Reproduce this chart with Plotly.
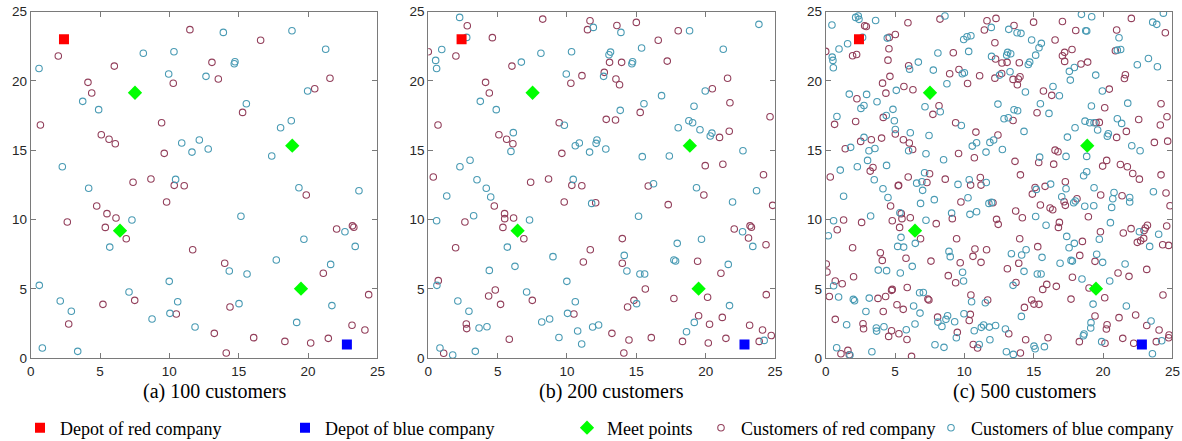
import plotly.graph_objects as go

# ---------------- data ----------------
red_depot = (2.4, 23.0)
blue_depot = (22.8, 1.0)
meet_points = [(7.52, 19.15), (18.86, 15.33), (6.44, 9.2), (19.49, 5.02)]

red_a = [(1.99,21.8),(11.48,23.7),(6.03,21.07),(4.13,19.9),(4.4,19.13),(10.28,19.83),(0.7,16.82),(9.44,16.99),
         (5.09,16.12),(5.65,15.79),(6.1,15.47),(9.63,14.78),(7.38,12.69),(8.67,12.93),(10.35,12.47),(11.07,12.44),
         (16.58,22.93),(13.07,21.34),(13.53,20.14),(21.58,20.19),(20.48,19.44),(15.28,17.73),
         (4.76,10.98),(5.5,10.43),(6.15,10.12),(5.38,9.44),(6.89,8.62),(2.64,9.83),(9.8,11.27),(11.68,7.83),
         (2.74,2.47),(5.21,3.89),(7.5,4.18),(10.5,3.19),
         (19.87,11.77),(22.06,9.32),(23.2,9.55),(23.3,9.45),(13.99,6.85),(21.1,6.13),(24.37,4.59),(14.37,3.7),
         (23.17,2.38),(24.1,2.04),(13.24,1.8),(16.08,1.49),(18.33,1.22),(20.19,1.1),(21.46,1.44),(14.1,0.38)]
blue_a = [(0.6,20.9),(8.12,22.0),(10.33,22.1),(3.75,18.53),(4.9,17.93),(9.95,20.5),(10.89,15.52),(11.63,14.87),
          (12.16,15.74),(2.28,13.81),(10.45,12.9),(4.18,12.26),
          (13.89,23.5),(18.84,23.62),(21.27,22.28),(14.73,21.38),(14.68,21.24),(12.64,20.33),(19.97,19.27),
          (15.55,18.36),(18.79,17.13),(18.02,16.63),(12.8,15.09),(17.38,14.59),(19.34,12.3),(23.67,12.08),
          (7.3,9.97),(5.7,8.02),(0.62,5.26),(2.13,4.13),(2.93,3.39),(7.09,4.78),(9.99,5.55),(10.6,4.08),
          (10.04,3.24),(8.75,2.83),(11.85,2.26),(0.84,0.74),(3.39,0.5),
          (15.16,10.24),(22.66,9.13),(19.7,8.58),(23.4,8.07),(17.71,7.09),(14.32,6.29),(15.6,6.08),(21.63,6.77),
          (15.02,3.94),(21.72,3.8),(19.18,2.59)]

red_b_extra = [(2.81,23.98),(4.62,23.12),(8.25,24.46),(11.66,24.34),(0.0,22.1),(11.08,20.38),(0.36,13.07),
               (13.6,24.0),(15.0,24.22),(18.02,23.62),(13.94,21.34),(17.23,21.43),(12.69,20.62),(13.79,19.73),
               (21.75,18.43),(12.83,17.23),(13.5,17.18),(21.0,15.93),(21.7,16.37),(24.64,17.42),(19.97,13.89),
               (21.24,13.99),(24.17,13.24),(15.86,12.42),
               (12.07,11.22),(5.51,10.07),(1.97,7.97),(11.18,6.94),(0.72,5.6),(2.77,2.14),(4.83,4.92),(4.35,4.49),
               (5.84,1.37),(1.11,0.36),
               (17.3,11.08),(24.83,11.03),(23.09,8.67),(24.35,8.19),(13.99,8.63),(19.42,7.0),(15.65,5.0),(20.14,4.4),
               (14.83,4.18),(17.71,4.31),(19.49,3.07),(21.2,2.95),(20.28,2.45),(24.73,1.64),(23.86,1.22),(14.47,1.32)]
blue_b_extra = [(2.26,24.58),(2.77,23.14),(11.9,23.86),(0.97,22.27),(0.53,21.48),(6.71,21.36),(9.81,16.8),(6.13,16.27),
                (5.96,14.92),(10.6,15.33),(3.01,14.28),(3.51,12.88),
                (23.84,24.08),(15.38,22.37),(13.14,22.08),(13.03,21.89),(16.82,18.94),(13.84,17.88),(19.16,18.17),
                (19.06,16.99),(19.59,16.48),(20.45,16.24),(20.33,16.03),(22.69,14.97),(12.1,15.5),(15.43,14.54),
                (16.24,12.59),
                (1.33,11.7),(4.5,11.63),(11.78,11.17),(3.27,10.28),(0.6,9.92),(8.99,7.33),(6.25,6.63),(4.4,6.34),
                (3.66,2.18),(4.23,2.28),(8.18,2.62),(10.77,1.97),(9.42,1.5),(11.06,1.03),(1.76,0.24),
                (21.94,11.27),(17.95,8.29),(14.13,7.42),(17.83,7.02),(15.26,6.08),(24.22,1.29),(18.62,1.91),(12.28,2.4)]

red_c = [(2.81,23.98),(2.93,23.93),(5.93,24.2),(8.24,24.46),(11.63,24.34),(12.28,24.51),(11.44,23.67),(0.0,22.13),
         (1.94,21.82),(2.23,21.91),(4.58,23.14),(5.02,23.35),(4.56,22.32),(4.49,21.5),(5.98,21.1),(9.2,22.03),
         (12.2,22.75),(12.25,21.58),(8.94,20.52),(9.61,20.83),(11.1,20.37),(12.2,20.2),(4.63,20.33),(4.1,19.84),
         (10.23,19.82),(5.64,19.6),(6.29,19.37),(2.25,18.72),(4.34,19.12),(8.17,18.21),(7.73,17.59),(4.15,17.37),
         (0.64,16.87),(2.16,17.08),(5.02,16.17),(9.37,16.99),(10.83,16.31),(2.52,15.64),(3.29,15.76),(4.03,15.88),
         (5.6,15.76),(6.03,15.52),(6.27,15.06),(1.41,15.11),(9.58,14.77),(12.42,16.1),(10.72,14.46),(3.41,13.76),
         (3.21,13.5),(0.33,13.07),(5.26,12.47),(5.95,13.07),(7.49,13.31),(7.3,12.68),(8.62,12.92),(11.15,13.04),
         (11.2,12.49),(10.45,12.49),
         (13.58,24.0),(14.99,24.24),(17.07,24.29),(18.03,23.64),(22.04,24.51),(20.98,23.67),(24.49,23.47),
         (16.54,22.95),(17.23,22.06),(17.07,21.82),(17.76,22.27),(17.23,21.41),(20.89,22.18),(12.71,21.29),
         (13.08,21.34),(13.96,21.31),(12.69,20.54),(13.51,20.11),(14.01,20.3),(13.89,20.14),(13.82,19.73),
         (18.41,21.22),(18.89,21.36),(21.61,20.45),(21.54,20.18),(15.7,19.27),(16.3,18.96),(20.45,19.41),
         (15.24,17.71),(13.51,17.15),(20.12,18.07),(24.18,18.35),(24.61,17.42),(22.57,17.22),(24.13,16.82),
         (19.49,16.98),(19.73,17.01),(21.68,16.36),(20.98,15.93),(23.7,15.57),(24.66,15.66),(16.54,15.01),
         (16.75,14.89),(15.36,14.12),(16.44,14.0),(13.65,14.2),(20.26,14.27),(19.97,13.86),(21.25,13.98),
         (21.75,13.81),(22.14,13.33),(22.62,12.92),(24.18,13.23),(14.04,13.23),(17.28,12.73),(15.1,12.32),
         (5.23,12.45),(4.68,10.98),(9.75,11.27),(12.06,11.22),(5.45,10.43),(5.5,10.07),(6.1,10.14),(9.13,10.07),
         (12.32,10.02),(12.44,9.66),(1.29,9.97),(2.59,9.8),(0.83,9.27),(4.8,9.92),(5.33,9.44),(7.97,9.71),
         (6.84,8.62),(1.94,7.97),(9.44,8.62),(10.76,7.88),(11.6,7.83),(10.62,7.35),(11.2,6.92),(9.7,6.89),
         (7.59,7.01),(5.79,7.21),(3.94,7.61),(4.08,7.06),(0.04,6.8),(0.09,6.22),(2.01,5.88),(8.84,5.96),
         (9.37,5.45),(0.69,5.57),(1.19,5.38),(4.8,4.97),(4.75,4.9),(5.88,5.11),(7.37,4.27),(7.44,4.2),
         (0.26,4.46),(3.77,4.32),(4.32,4.46),(5.14,3.86),(5.59,3.53),(4.15,3.38),(10.47,4.56),(11.68,4.2),
         (8.07,2.97),(10.43,3.17),(10.35,2.73),(0.69,2.81),(2.69,2.49),(2.73,2.13),(4.75,1.99),(4.54,1.58),
         (5.28,1.77),(5.86,1.36),(9.49,1.87),(1.1,0.33),(1.6,0.57),(1.7,0.26),(6.19,0.14),(10.64,1.0),(10.95,0.74),
         (14.9,11.84),(15.82,12.4),(17.19,11.29),(17.28,11.03),(18.12,11.51),(19.83,11.77),(21.37,11.72),
         (24.54,11.92),(24.83,11.0),(15.48,11.05),(16.18,10.84),(16.37,10.71),(13.7,10.62),(14.18,10.14),
         (18.94,10.21),(16.85,9.8),(16.78,9.44),(23.2,9.59),(23.05,9.4),(22.96,9.22),(22.02,9.35),(21.46,9.03),
         (24.59,9.54),(19.81,9.13),(18.51,8.43),(13.99,8.62),(15.29,8.05),(22.47,8.36),(22.71,8.48),(22.93,8.65),
         (24.3,8.19),(24.73,8.14),(18.32,7.42),(19.42,6.99),(13.92,6.85),(13.1,6.46),(21.08,6.15),(23.15,6.41),
         (21.87,5.91),(17.79,5.84),(13.72,5.47),(15.94,5.33),(16.63,5.19),(15.65,4.97),(18.99,5.07),(24.32,4.56),
         (17.69,4.27),(20.12,4.37),(14.85,4.2),(15.02,3.91),(15.38,3.89),(14.33,3.67),(19.42,3.05),(21.15,2.93),
         (22.35,3.12),(20.29,2.42),(20.24,2.11),(23.15,2.37),(24.04,2.04),(24.76,1.68),(24.73,1.48),(23.84,1.2),
         (13.2,1.77),(14.42,1.34),(16.03,1.48),(18.29,1.2),(20.14,1.08),(21.42,1.44),(22.21,1.08),(14.04,0.38)]
blue_c = [(0.45,24.03),(2.16,24.58),(2.35,24.68),(2.4,24.44),(3.6,24.36),(8.6,24.68),(11.94,23.86),(2.66,23.14),
          (1.58,22.68),(0.96,22.3),(0.47,21.72),(0.52,21.48),(0.55,20.95),(4.44,23.09),(6.05,20.85),(6.68,21.36),
          (8.09,22.01),(10.31,22.13),(9.95,22.99),(10.19,23.19),(10.47,23.26),(11.96,21.77),(7.76,20.78),
          (9.85,20.52),(10.0,20.59),(12.54,20.42),(8.74,19.8),(5.09,19.32),(1.7,19.05),(2.95,19.03),(3.7,18.5),
          (2.76,18.23),(2.54,18.02),(7.16,18.14),(8.26,17.78),(4.85,17.95),(4.37,17.51),(0.81,17.44),(4.95,17.13),
          (5.02,16.5),(9.78,16.79),(6.1,16.26),(7.45,16.07),(2.76,15.93),(5.98,14.97),(3.55,15.13),(3.12,14.97),
          (1.8,15.21),(7.23,14.75),(8.5,14.32),(10.57,15.3),(10.88,15.54),(11.56,14.87),(11.84,15.57),(12.11,15.74),
          (3.02,14.27),(2.28,13.81),(4.39,13.91),(1.05,13.57),(3.5,12.87),(6.56,12.63),(6.94,12.73),(7.13,13.38),
          (9.54,12.54),(10.35,12.87),(11.58,12.68),(12.42,18.33),
          (13.2,23.72),(13.8,23.48),(14.08,23.43),(18.44,24.8),(19.18,24.63),(18.75,23.62),(18.82,23.6),
          (23.58,24.24),(23.87,24.08),(24.35,24.89),(21.15,23.11),(14.85,22.95),(15.55,22.71),(15.38,22.39),
          (15.14,21.86),(13.12,22.06),(13.34,21.96),(13.05,21.86),(14.71,21.36),(14.61,21.19),(21.03,22.22),
          (21.27,22.27),(23.27,21.62),(22.47,21.17),(23.92,21.02),(13.29,20.66),(17.57,20.69),(17.93,20.97),
          (17.64,20.06),(19.47,20.42),(14.4,19.2),(16.39,19.6),(16.85,18.93),(19.95,19.27),(15.48,18.35),
          (16.1,17.66),(13.58,17.92),(13.84,17.85),(12.86,17.27),(13.17,17.35),(19.16,18.19),(21.78,18.4),
          (18.7,17.1),(19.04,16.98),(19.35,16.98),(21.03,17.27),(21.34,16.94),(17.98,16.62),(19.61,16.46),
          (20.38,16.19),(20.31,16.02),(14.3,16.36),(12.74,15.06),(17.43,15.95),(22.07,15.33),(22.67,14.97),
          (17.33,14.56),(18.82,14.56),(15.43,14.51),(18.6,13.16),(18.82,13.45),(16.22,12.56),(19.35,12.3),
          (4.13,12.23),(6.99,12.11),(1.29,11.68),(4.49,11.6),(6.84,11.17),(7.83,11.44),(10.26,11.58),(11.77,11.17),
          (11.96,11.24),(3.24,10.26),(5.35,10.5),(7.23,9.95),(9.08,10.47),(10.4,10.38),(10.88,10.57),(0.57,9.92),
          (0.19,8.84),(5.43,8.72),(6.46,8.29),(5.19,8.07),(5.62,8.02),(8.89,7.71),(8.98,7.33),(6.24,6.63),
          (3.79,6.36),(4.39,6.32),(5.38,6.15),(9.87,6.2),(9.94,5.57),(0.57,5.23),(6.77,4.73),(7.04,4.75),
          (0.93,4.42),(1.99,4.25),(2.08,4.15),(3.14,4.34),(6.34,3.77),(6.8,3.26),(2.9,3.38),(10.52,4.08),
          (11.51,4.01),(8.79,3.07),(8.67,2.81),(8.09,2.61),(8.38,2.3),(9.3,2.64),(9.97,3.21),(10.71,1.99),
          (11.22,2.23),(11.39,2.4),(11.8,2.25),(12.25,2.37),(1.51,2.42),(3.65,2.18),(3.67,1.96),(4.2,2.28),
          (5.81,2.06),(6.44,2.47),(9.42,1.48),(11.84,1.34),(0.79,0.76),(1.75,0.23),(3.33,0.47),(7.88,0.98),
          (8.53,0.79),(11.07,1.0),
          (15.19,12.18),(17.33,12.23),(17.02,11.65),(17.88,11.22),(18.0,11.34),(18.68,10.96),(19.33,11.0),
          (20.79,11.96),(20.7,11.51),(21.92,11.6),(21.92,11.27),(20.62,10.88),(23.63,12.01),(15.14,10.23),
          (15.89,9.59),(20.53,9.78),(22.62,9.13),(24.01,8.94),(19.73,8.58),(17.38,8.79),(17.93,8.29),(17.55,7.97),
          (14.45,7.83),(14.13,7.45),(13.39,7.54),(23.36,8.07),(19.54,7.5),(15.6,7.28),(17.69,7.06),(17.79,7.01),
          (19.97,6.92),(16.9,6.85),(21.59,6.8),(14.3,6.27),(15.26,6.08),(15.53,6.08),(18.48,5.72),(20.48,5.57),
          (13.51,5.26),(19.28,3.91),(21.68,3.77),(14.11,3.02),(19.13,2.57),(19.11,2.18),(23.46,2.69),(24.23,1.27),
          (12.96,2.11),(15.02,0.88),(15.1,0.69),(15.77,0.84),(18.63,1.75),(18.58,1.63),(19.9,1.2),(23.56,0.33),
          (13.03,0.47),(13.53,0.28)]

panels = [
    ("(a) 100 customers", red_a, blue_a),
    ("(b) 200 customers", red_a + red_b_extra, blue_a + blue_b_extra),
    ("(c) 500 customers", red_c, blue_c),
]
tick_vals = [0, 5, 10, 15, 20, 25]

# ---------------- layout helpers ----------------
RED_CUST = "#93405C"
BLUE_CUST = "#4A9BB4"
W, H = 1182, 441


def px_x(p):   # page pixel -> paper x
    return p / W


def px_y(p):   # page pixel -> paper y
    return 1 - p / H


x_domains = [(px_x(30.7), px_x(377.4)), (px_x(428.3), px_x(775.0)), (px_x(825.7), px_x(1172.4))]
y_domain = (px_y(358.3), px_y(11.6))
caption_x = [px_x(215), px_x(611), px_x(1025)]
caption_y = px_y(391)

fig = go.Figure()
legend_names = ["Depot of red company", "Depot of blue company", "Meet points",
                "Customers of red company", "Customers of blue company"]
legend_ids = ["legend", "legend2", "legend3", "legend4", "legend5"]

for i, (cap, reds, blues) in enumerate(panels):
    xa = "x" if i == 0 else f"x{i+1}"
    ya = "y" if i == 0 else f"y{i+1}"
    show = (i == 0)
    fig.add_trace(go.Scatter(x=[p[0] for p in reds], y=[p[1] for p in reds], mode="markers",
                             marker=dict(symbol="circle-open", size=6.5, color=RED_CUST, line=dict(width=1.1)),
                             name=legend_names[3], legend=legend_ids[3], showlegend=show, xaxis=xa, yaxis=ya))
    fig.add_trace(go.Scatter(x=[p[0] for p in blues], y=[p[1] for p in blues], mode="markers",
                             marker=dict(symbol="circle-open", size=6.5, color=BLUE_CUST, line=dict(width=1.1)),
                             name=legend_names[4], legend=legend_ids[4], showlegend=show, xaxis=xa, yaxis=ya))
    fig.add_trace(go.Scatter(x=[red_depot[0]], y=[red_depot[1]], mode="markers",
                             marker=dict(symbol="square", size=10, color="#FF0000"),
                             name=legend_names[0], legend=legend_ids[0], showlegend=show, xaxis=xa, yaxis=ya))
    fig.add_trace(go.Scatter(x=[blue_depot[0]], y=[blue_depot[1]], mode="markers",
                             marker=dict(symbol="square", size=10, color="#0000FF"),
                             name=legend_names[1], legend=legend_ids[1], showlegend=show, xaxis=xa, yaxis=ya))
    fig.add_trace(go.Scatter(x=[p[0] for p in meet_points], y=[p[1] for p in meet_points], mode="markers",
                             marker=dict(symbol="diamond", size=11, color="#00FF00"),
                             name=legend_names[2], legend=legend_ids[2], showlegend=show, xaxis=xa, yaxis=ya))

    axis_common = dict(range=[0, 25], tickvals=tick_vals, ticks="inside", ticklen=5, tickwidth=1,
                       tickcolor="#7a7a7a", showline=True, linecolor="#7a7a7a", linewidth=1, mirror="ticks",
                       showgrid=False, zeroline=False, automargin=False, ticklabeloverflow="allow",
                       tickfont=dict(family="Liberation Sans, Arial", size=13.5, color="#262626"))
    xkey = "xaxis" if i == 0 else f"xaxis{i+1}"
    ykey = "yaxis" if i == 0 else f"yaxis{i+1}"
    fig.update_layout({xkey: dict(domain=list(x_domains[i]), anchor=ya, **axis_common),
                       ykey: dict(domain=list(y_domain), anchor=xa, **axis_common)})
    fig.add_annotation(text=cap, xref="paper", yref="paper", x=caption_x[i], y=caption_y,
                       xanchor="center", yanchor="middle", showarrow=False,
                       font=dict(family="Liberation Serif, Times New Roman", size=20, color="black"))

text_starts = [67, 332, 614, 748, 978]
legend_x = [(t - 47) / W for t in text_starts]
for lid, lx in zip(legend_ids, legend_x):
    fig.update_layout({lid: dict(x=lx, y=px_y(428), xanchor="left", yanchor="middle",
                                 orientation="h", bgcolor="rgba(0,0,0,0)",
                                 font=dict(family="Liberation Serif, Times New Roman", size=18, color="black"))})

fig.update_layout(width=W, height=H, autosize=False,
                  margin=dict(l=0, r=0, t=0, b=0, autoexpand=False),
                  paper_bgcolor="white", plot_bgcolor="white")

# remove the browser's default 8px page margin so the figure fills the window exactly
fig.write_html("out.html", config={"displayModeBar": False},
               post_script="document.body.style.margin='0';document.body.style.overflow='hidden';")
